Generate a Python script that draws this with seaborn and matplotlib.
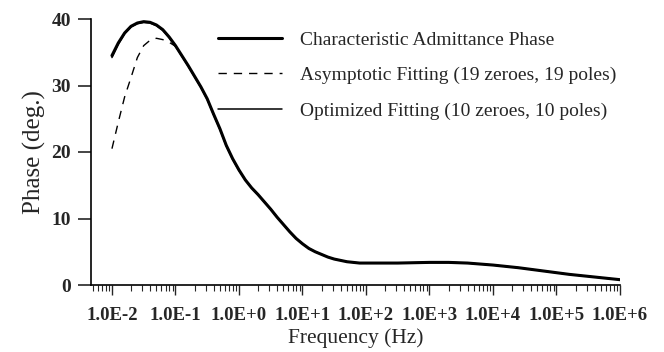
import numpy as np
import pandas as pd
import matplotlib
matplotlib.use("Agg")
import matplotlib.pyplot as plt
import seaborn as sns
from matplotlib.ticker import LogLocator, FixedLocator, FixedFormatter, NullFormatter

# ---- data ----
log_f_main = [-2.0, -1.9, -1.8, -1.7, -1.6, -1.5, -1.4, -1.3, -1.2, -1.1, -1.0,
              -0.9, -0.8, -0.7, -0.6, -0.5, -0.4, -0.3, -0.2, -0.1, 0.0,
              0.1, 0.2, 0.3, 0.4, 0.5, 0.6, 0.7, 0.8, 0.9, 1.0,
              1.1, 1.2, 1.3, 1.4, 1.5, 1.7, 1.9, 2.2, 2.5, 3.0,
              3.3, 3.6, 4.0, 4.4, 4.8, 5.2, 5.6, 6.0]
phase_char = [34.5, 36.4, 37.9, 38.9, 39.4, 39.6, 39.5, 39.1, 38.4, 37.3, 36.0,
              34.5, 33.0, 31.4, 29.8, 28.0, 25.7, 23.5, 21.0, 19.0, 17.3,
              15.8, 14.6, 13.6, 12.5, 11.4, 10.2, 9.1, 8.0, 7.0, 6.2,
              5.5, 5.0, 4.6, 4.2, 3.9, 3.5, 3.3, 3.3, 3.3, 3.4,
              3.4, 3.3, 3.0, 2.6, 2.1, 1.6, 1.2, 0.8]
phase_opt = [34.2, 36.2, 37.8, 38.8, 39.3, 39.5, 39.4, 39.0, 38.3, 37.2, 35.9,
             34.4, 32.9, 31.3, 29.7, 27.9, 25.6, 23.4, 20.9, 18.9, 17.2,
             15.8, 14.6, 13.6, 12.5, 11.4, 10.2, 9.1, 8.0, 7.0, 6.2,
             5.5, 5.0, 4.6, 4.2, 3.9, 3.5, 3.3, 3.3, 3.3, 3.4,
             3.4, 3.3, 3.0, 2.6, 2.1, 1.6, 1.2, 0.8]
log_f_asym = [-2.0, -1.9, -1.8, -1.7, -1.6, -1.5, -1.4, -1.3, -1.2, -1.1, -1.0,
              -0.9, -0.8, -0.7, -0.6, -0.5, -0.4, -0.3, -0.2, -0.1, 0.0,
              0.1, 0.2, 0.3, 0.4, 0.5, 0.6, 0.7, 0.8, 0.9, 1.0,
              1.1, 1.2, 1.3, 1.4, 1.5, 1.7, 1.9, 2.2, 2.5, 3.0,
              3.3, 3.6, 4.0, 4.4, 4.8, 5.2, 5.6, 6.0]
phase_asym = [20.5, 24.5, 28.3, 31.2, 34.2, 36.0, 36.8, 37.1, 36.9, 36.5, 35.9,
              34.5, 33.0, 31.4, 29.8, 28.0, 25.7, 23.5, 21.0, 19.0, 17.3,
              15.8, 14.6, 13.6, 12.5, 11.4, 10.2, 9.1, 8.0, 7.0, 6.2,
              5.5, 5.0, 4.6, 4.2, 3.9, 3.5, 3.3, 3.3, 3.3, 3.4,
              3.4, 3.3, 3.0, 2.6, 2.1, 1.6, 1.2, 0.8]

labels = ["Characteristic Admittance Phase",
          "Asymptotic Fitting (19 zeroes, 19 poles)",
          "Optimized Fitting (10 zeroes, 10 poles)"]
tick_exps = [-2, -1, 0, 1, 2, 3, 4, 5, 6]
tick_labels = ["1.0E-2", "1.0E-1", "1.0E+0", "1.0E+1", "1.0E+2",
               "1.0E+3", "1.0E+4", "1.0E+5", "1.0E+6"]
y_ticks = [0, 10, 20, 30, 40]

df_char = pd.DataFrame({"f": 10.0 ** np.array(log_f_main), "phase": phase_char})
df_opt = pd.DataFrame({"f": 10.0 ** np.array(log_f_main), "phase": phase_opt})
df_asym = pd.DataFrame({"f": 10.0 ** np.array(log_f_asym), "phase": phase_asym})

sns.set_style("ticks")
plt.rcParams["font.family"] = ["Liberation Serif", "DejaVu Serif"]

fig = plt.figure(figsize=(6.64, 3.52), dpi=100)
ax = fig.add_axes([91 / 664, 1 - 285 / 352, (620 - 91) / 664, (285 - 19) / 352])

sns.lineplot(data=df_char, x="f", y="phase", ax=ax, color="black", lw=2.2,
             sort=False, estimator=None, label=labels[0])
sns.lineplot(data=df_asym, x="f", y="phase", ax=ax, color="black", lw=1.0,
             sort=False, estimator=None, label=labels[1], dashes=False)
ax.lines[-1].set_dashes([6, 5])
sns.lineplot(data=df_opt, x="f", y="phase", ax=ax, color="black", lw=1.1,
             sort=False, estimator=None, label=labels[2])

ax.set_xscale("log")
ax.set_xlim(10 ** -2.33, 10 ** 6)
ax.set_ylim(0, 40)

ax.xaxis.set_major_locator(FixedLocator([10.0 ** e for e in tick_exps]))
ax.xaxis.set_major_formatter(FixedFormatter(tick_labels))
ax.xaxis.set_minor_locator(LogLocator(base=10, subs=np.arange(2, 10), numticks=100))
ax.xaxis.set_minor_formatter(NullFormatter())
ax.set_yticks(y_ticks)
ax.set_yticklabels([str(v) for v in y_ticks])

for s in ["top", "right"]:
    ax.spines[s].set_visible(False)
for s in ["left", "bottom"]:
    ax.spines[s].set_linewidth(1.2)
    ax.spines[s].set_color("black")

ax.tick_params(axis="y", which="major", direction="out", length=9.5, width=1.2,
               pad=5, labelsize=14)
ax.tick_params(axis="x", which="major", direction="out", length=7, width=1.0,
               pad=9, labelsize=13.5)
ax.tick_params(axis="x", which="minor", direction="out", length=4, width=0.8)
for t in ax.get_xticklabels() + ax.get_yticklabels():
    t.set_fontweight("bold")

ax.set_xlabel("Frequency (Hz)", fontsize=15.5, labelpad=3)
ax.set_ylabel("Phase (deg.)", fontsize=18, labelpad=4)

leg = ax.legend(loc="upper left", bbox_to_anchor=(218 / 664, 1 - 31 / 352),
                bbox_transform=fig.transFigure, frameon=False, fontsize=14,
                handlelength=3.3, handletextpad=0.93, labelspacing=0.92,
                borderaxespad=0, borderpad=0)
for h in leg.get_lines():
    h.set_color("black")

fig.savefig("out.png", dpi=100, facecolor="white")
